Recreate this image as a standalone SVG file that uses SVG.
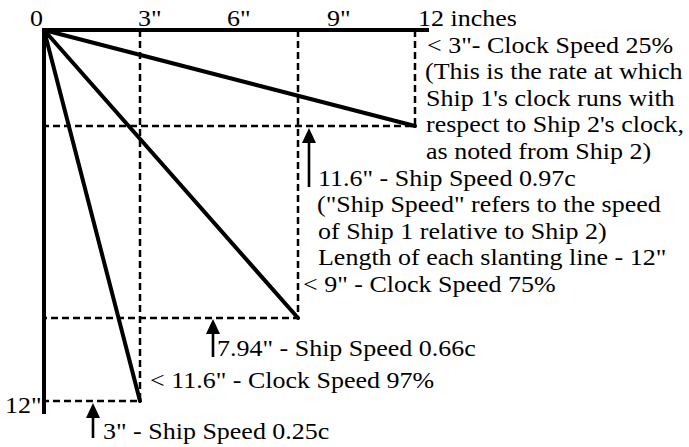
<svg xmlns="http://www.w3.org/2000/svg" width="689" height="447" viewBox="0 0 689 447">
<style>
.axis{stroke:#000;stroke-width:4;fill:none;stroke-linecap:square}
.slant{stroke:#000;stroke-width:4;fill:none;stroke-linecap:round}
.dash{stroke:#000;stroke-width:2.5;fill:none;stroke-dasharray:7 4}
.arr{stroke:#000;stroke-width:2.6;fill:none}
.t{font-family:'Liberation Serif','Times New Roman','DejaVu Serif',serif;font-size:23px;fill:#000}
</style>
<defs>
<marker id="ah" markerUnits="userSpaceOnUse" markerWidth="15" markerHeight="14" refX="4" refY="7" orient="auto" viewBox="0 0 15 14">
<path d="M0,0 L15,7 L0,14 z" fill="#000"/>
</marker>
</defs>
<rect width="689" height="447" fill="#fff"/>
<g id="grid">
<path class="dash" d="M140,30 V401 H44"/>
<path class="dash" d="M298,30 V318 H44"/>
<path class="dash" d="M415,30 V126 H44"/>
</g>
<g id="axes">
<path class="axis" d="M44,30 H427"/>
<path class="axis" d="M44,30 V412"/>
</g>
<g id="slants">
<line class="slant" x1="44" y1="30" x2="415" y2="126"/>
<line class="slant" x1="44" y1="30" x2="298" y2="318"/>
<line class="slant" x1="44" y1="30" x2="140" y2="401"/>
</g>
<g id="connectors">
<line class="arr" x1="309" y1="187" x2="309" y2="139" marker-end="url(#ah)"/>
<line class="arr" x1="213" y1="357" x2="213" y2="330" marker-end="url(#ah)"/>
<line class="arr" x1="93" y1="438" x2="93" y2="414" marker-end="url(#ah)"/>
</g>
<g class="t" font-family="Liberation Serif, DejaVu Serif, serif" font-size="23">
<g id="scale-labels">
<text transform="translate(30 26) scale(1.13 1)">0</text>
<text transform="translate(138 26) scale(1.13 1)">3"</text>
<text transform="translate(227 26) scale(1.13 1)">6"</text>
<text transform="translate(327 26) scale(1.13 1)">9"</text>
<text transform="translate(418 26) scale(1.13 1)">12 inches</text>
<text transform="translate(5 413) scale(1.13 1)">12"</text>
</g>
<g id="note-25">
<text transform="translate(427 52.5) scale(1.13 1)">&lt; 3"- Clock Speed 25%</text>
<text transform="translate(425 79) scale(1.13 1)">(This is the rate at which</text>
<text transform="translate(426 105.5) scale(1.13 1)">Ship 1's clock runs with</text>
<text transform="translate(426 132) scale(1.13 1)">respect to Ship 2's clock,</text>
<text transform="translate(426 158.5) scale(1.13 1)">as noted from Ship 2)</text>
</g>
<g id="note-097">
<text transform="translate(318 185.5) scale(1.13 1)">11.6" - Ship Speed 0.97c</text>
<text transform="translate(317 212) scale(1.13 1)">("Ship Speed" refers to the speed</text>
<text transform="translate(318 238.5) scale(1.13 1)">of Ship 1 relative to Ship 2)</text>
<text transform="translate(318 265) scale(1.13 1)">Length of each slanting line - 12"</text>
</g>
<g id="note-75">
<text transform="translate(303 292) scale(1.13 1)">&lt; 9" - Clock Speed 75%</text>
<text transform="translate(217 356) scale(1.13 1)">7.94" - Ship Speed 0.66c</text>
</g>
<g id="note-97">
<text transform="translate(150 388) scale(1.13 1)">&lt; 11.6" - Clock Speed 97%</text>
<text transform="translate(103 439) scale(1.13 1)">3" - Ship Speed 0.25c</text>
</g>
</g>
</svg>
